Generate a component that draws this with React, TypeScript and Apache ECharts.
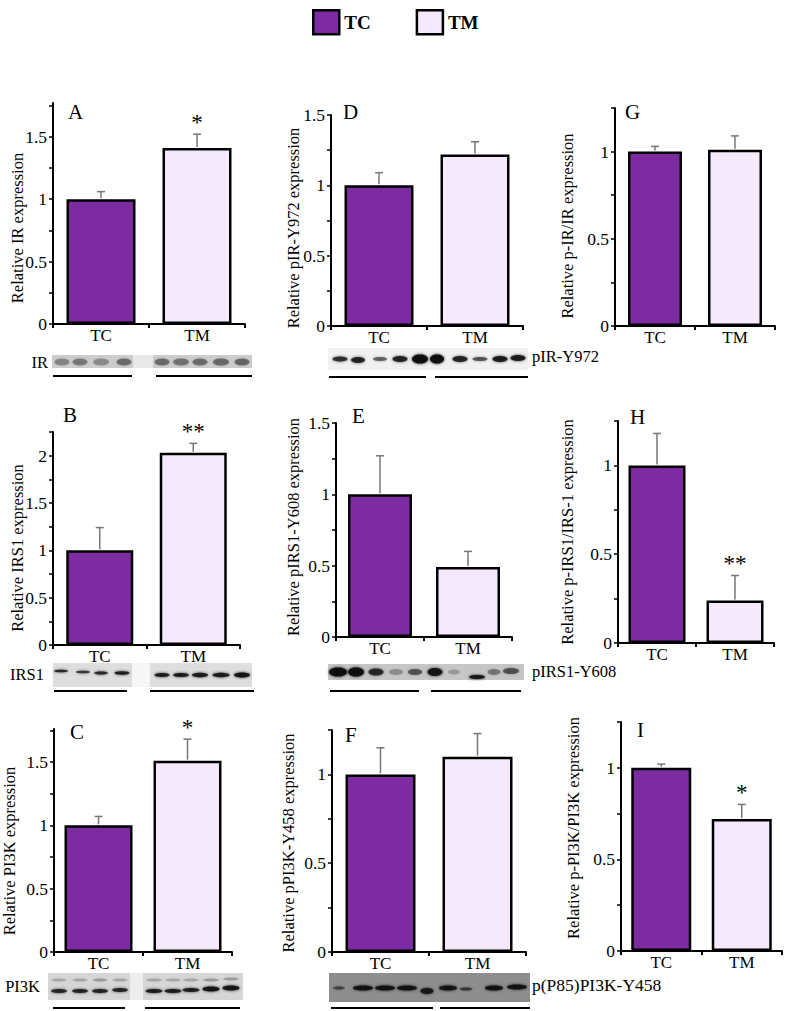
import React, { useEffect, useRef } from "react";
import * as echarts from "echarts";

// ---------------- data ----------------
const categories = ["TC", "TM"];
const panelLetters = ["A", "B", "C", "D", "E", "F", "G", "H", "I"];
const yAxisNames = [
  "Relative IR expression",
  "Relative IRS1 expression",
  "Relative PI3K expression",
  "Relative pIR-Y972 expression",
  "Relative pIRS1-Y608 expression",
  "Relative pPI3K-Y458 expression",
  "Relative p-IR/IR expression",
  "Relative p-IRS1/IRS-1 expression",
  "Relative p-PI3K/PI3K expression",
];
const tcMean = [1.0, 1.0, 1.0, 1.0, 1.0, 1.0, 1.0, 1.0, 1.0];
const tmMean = [1.41, 2.03, 1.51, 1.22, 0.49, 1.1, 1.01, 0.24, 0.72];
const tcErr = [0.06, 0.24, 0.07, 0.09, 0.27, 0.15, 0.03, 0.18, 0.02];
const tmErr = [0.11, 0.1, 0.17, 0.09, 0.11, 0.13, 0.08, 0.14, 0.08];
const tmSignificance = ["*", "**", "*", "", "", "", "", "**", "*"];
const yAxisMax = [1.77, 2.25, 1.76, 1.5, 1.5, 1.25, 1.25, 1.25, 1.25];
const yLabelValues = [
  [0, 0.5, 1, 1.5],
  [0, 0.5, 1, 1.5, 2],
  [0, 0.5, 1, 1.5],
  [0, 0.5, 1, 1.5],
  [0, 0.5, 1, 1.5],
  [0, 0.5, 1],
  [0, 0.5, 1],
  [0, 0.5, 1],
  [0, 0.5, 1],
];
const yTickValues = [
  [0, 0.25, 0.5, 0.75, 1, 1.25, 1.5, 1.75],
  [0, 0.25, 0.5, 0.75, 1, 1.25, 1.5, 1.75, 2, 2.25],
  [0, 0.25, 0.5, 0.75, 1, 1.25, 1.5, 1.75],
  [0, 0.25, 0.5, 0.75, 1, 1.25, 1.5],
  [0, 0.25, 0.5, 0.75, 1, 1.25, 1.5],
  [0, 0.25, 0.5, 0.75, 1, 1.25],
  [0, 0.25, 0.5, 0.75, 1, 1.25],
  [0, 0.25, 0.5, 0.75, 1, 1.25],
  [0, 0.25, 0.5, 0.75, 1, 1.25],
];
const blotLeftLabels = ["IR", "IRS1", "PI3K"];
const blotRightLabels = ["pIR-Y972", "pIRS1-Y608", "p(P85)PI3K-Y458"];

// ---------------- layout / style ----------------
const FONT = "'Liberation Serif', 'Times New Roman', serif";
const TC_COLOR = "#7d2ba0";
const TM_COLOR = "#f5eafc";
const ERR_COLOR = "#777777";
// grid boxes [left, top, right, bottom]
const gridBoxes = [
  [53, 103, 245, 324],
  [53, 432, 240, 645],
  [54, 729, 232, 952],
  [331, 115, 523, 326],
  [336, 423, 512, 637],
  [332, 730, 526, 952],
  [615, 108, 775, 326],
  [618, 421, 774, 643],
  [621, 722, 782, 951],
];
const barWidths = [69, 67, 68, 69, 64, 70, 54, 57, 60];
const letterPos = [
  [68, 112], [63, 415], [70, 732],
  [343, 112], [352, 416], [345, 735],
  [625, 112], [630, 417], [637, 730],
];
const namePos = [
  [17, 228], [17, 548], [9, 851],
  [293, 228], [293, 527], [288, 843],
  [567, 226], [567, 532], [573, 828],
];

type Band = [number, number, number, number, number]; // cx, cy, w, h, alpha

function blot(x0: number, y0: number, x1: number, y1: number, bg: string, gaps: any[], bands: Band[]) {
  const els: any[] = [
    { type: "rect", shape: { x: x0, y: y0, width: x1 - x0, height: y1 - y0 }, style: { fill: bg } },
  ];
  gaps.forEach(([gx0, gx1, col]: any) => {
    els.push({ type: "rect", shape: { x: gx0, y: y0, width: gx1 - gx0, height: y1 - y0 }, style: { fill: col } });
  });
  bands.forEach(([cx, cy, w, h, a]) => {
    els.push({
      type: "ellipse",
      shape: { cx, cy, rx: w / 2, ry: h / 2 },
      style: { fill: `rgba(15,15,15,${a})`, shadowBlur: 3, shadowColor: `rgba(15,15,15,${a})` },
    });
  });
  return els;
}

function underline(x0: number, x1: number, y: number) {
  return { type: "line", shape: { x1: x0, y1: y, x2: x1, y2: y }, style: { stroke: "#000", lineWidth: 2 } };
}

function label(text: string, x: number, y: number, size: number, align = "left", extra: any = {}) {
  return {
    type: "text",
    x,
    y,
    style: { text, fontFamily: FONT, fontSize: size, fill: "#000", align, verticalAlign: "middle", ...extra },
  };
}

export default function App() {
  const ref = useRef<HTMLDivElement>(null);

  useEffect(() => {
    if (!ref.current) return;
    const chart = echarts.init(ref.current, null, { renderer: "svg" });

    const grids: any[] = [];
    const xAxes: any[] = [];
    const yAxes: any[] = [];
    const series: any[] = [];

    for (let i = 0; i < 9; i++) {
      const [l, t, r, b] = gridBoxes[i];
      grids.push({ left: l, top: t, width: r - l, height: b - t, containLabel: false, outerBoundsMode: "none" });
      xAxes.push({
        type: "category",
        gridIndex: i,
        data: categories,
        axisLine: { show: true, lineStyle: { color: "#000", width: 2 } },
        axisTick: { show: true, length: 4, lineStyle: { color: "#000", width: 2 } },
        axisLabel: { color: "#000", fontFamily: FONT, fontSize: 17, margin: 3 },
        splitLine: { show: false },
      });
      yAxes.push({
        type: "value",
        gridIndex: i,
        min: 0,
        max: yAxisMax[i],
        axisLine: { show: true, lineStyle: { color: "#000", width: 2 } },
        axisTick: { show: true, length: 4, customValues: yTickValues[i], lineStyle: { color: "#000", width: 1.5 } },
        axisLabel: { customValues: yLabelValues[i], color: "#000", fontFamily: FONT, fontSize: 17.5, margin: 6 },
        splitLine: { show: false },
      });
      series.push({
        type: "bar",
        name: "TC",
        xAxisIndex: i,
        yAxisIndex: i,
        data: [tcMean[i], "-"],
        barWidth: barWidths[i],
        barGap: "-100%",
        itemStyle: { color: TC_COLOR, borderColor: "#000", borderWidth: 2.5 },
        z: 2,
      });
      series.push({
        type: "bar",
        name: "TM",
        xAxisIndex: i,
        yAxisIndex: i,
        data: ["-", tmMean[i]],
        barWidth: barWidths[i],
        barGap: "-100%",
        itemStyle: { color: TM_COLOR, borderColor: "#000", borderWidth: 2.5 },
        z: 2,
      });
      const panel = i;
      series.push({
        type: "custom",
        xAxisIndex: i,
        yAxisIndex: i,
        z: 5,
        encode: { x: 0, y: 1 },
        data: [
          [0, tcMean[i], tcErr[i]],
          [1, tmMean[i], tmErr[i]],
        ],
        renderItem: (params: any, api: any) => {
          const x = api.value(0);
          const m = api.value(1);
          const e = api.value(2);
          const base = api.coord([x, m]);
          const top = api.coord([x, m + e]);
          const children: any[] = [
            { type: "line", shape: { x1: base[0], y1: base[1] - 1, x2: top[0], y2: top[1] }, style: { stroke: ERR_COLOR, lineWidth: 1.5 } },
            { type: "line", shape: { x1: top[0] - 4, y1: top[1], x2: top[0] + 4, y2: top[1] }, style: { stroke: ERR_COLOR, lineWidth: 1.5 } },
          ];
          const sig = params.dataIndex === 1 ? tmSignificance[panel] : "";
          if (sig) {
            children.push({
              type: "text",
              x: top[0],
              y: top[1] - 12,
              style: { text: sig, fontFamily: FONT, fontSize: 23, fill: "#000", align: "center", verticalAlign: "middle" },
            });
          }
          return { type: "group", children };
        },
      });
    }

    const graphic: any[] = [];
    for (let i = 0; i < 9; i++) {
      graphic.push(label(panelLetters[i], letterPos[i][0], letterPos[i][1], 21, "left"));
      graphic.push({
        type: "text",
        x: namePos[i][0],
        y: namePos[i][1],
        rotation: Math.PI / 2,
        style: { text: yAxisNames[i], fontFamily: FONT, fontSize: 16.5, fill: "#000", align: "center", verticalAlign: "middle" },
      });
    }

    const blots: any[] = [
      ...blot(52, 355, 252, 368, "#cdcdcd", [[133, 153, "#e9e9e9"]], [
        [62, 362, 15, 7, 0.3], [80, 362, 15, 7, 0.35], [101, 362, 16, 7, 0.28], [124, 362, 15, 7, 0.4],
        [162, 362, 15, 7, 0.4], [181, 362, 16, 7, 0.38], [200, 362, 15, 7, 0.4], [221, 362, 16, 7, 0.45], [242, 362, 15, 7, 0.42],
      ]),
      ...blot(53, 663, 252, 687, "#dedede", [[132, 150, "#f6f6f6"]], [
        [61, 671, 14, 2.5, 0.8], [83, 672, 14, 2.5, 0.75], [101, 673, 14, 3, 0.8], [122, 673, 15, 3.5, 0.85],
        [162, 675, 15, 4, 0.85], [181, 675, 16, 4, 0.85], [200, 675, 16, 4.5, 0.85], [221, 675, 17, 4.5, 0.85], [242, 675, 16, 5, 0.9],
      ]),
      ...blot(48, 973, 243, 1000, "#d6d6d6", [[130, 143, "#eeeeee"]], [
        [59, 980, 15, 3, 0.2], [80, 980, 15, 3, 0.2], [100, 980, 15, 3, 0.25], [120, 980, 15, 3, 0.2],
        [59, 991, 16, 4, 0.8], [80, 991, 16, 4, 0.8], [100, 991, 16, 4, 0.8], [120, 990, 16, 4, 0.8],
        [154, 980, 16, 3, 0.2], [173, 980, 16, 3, 0.2], [191, 980, 16, 3, 0.2], [211, 980, 16, 3, 0.25], [231, 979, 16, 3, 0.25],
        [154, 991, 17, 4, 0.85], [173, 991, 17, 4, 0.85], [191, 990, 17, 4, 0.85], [211, 989, 17, 5, 0.9], [231, 988, 17, 5, 0.9],
      ]),
      ...blot(328, 348, 528, 370, "#f1f1f1", [], [
        [340, 359, 15, 5, 0.75], [358, 360, 14, 6, 0.8], [380, 359, 14, 4, 0.55], [400, 359, 15, 6, 0.8],
        [420, 359, 16, 9, 0.95], [437, 359, 14, 9, 0.95], [460, 359, 15, 6, 0.8], [480, 359, 15, 4, 0.6],
        [500, 359, 15, 6, 0.85], [518, 358, 15, 6, 0.85],
      ]),
      ...blot(328, 664, 524, 680, "#c6c6c6", [], [
        [338, 672, 18, 9, 0.95], [356, 672, 16, 9, 0.95], [376, 672, 15, 7, 0.75], [396, 672, 14, 6, 0.25],
        [415, 672, 14, 6, 0.55], [435, 672, 15, 8, 0.88], [454, 672, 12, 5, 0.2], [477, 677, 16, 4, 0.9],
        [494, 672, 13, 6, 0.35], [511, 671, 16, 6, 0.55],
      ]),
      ...blot(329, 973, 530, 1002, "#8e8e8e", [], [
        [339, 988, 12, 3, 0.55], [363, 988, 20, 5, 0.9], [385, 988, 20, 5, 0.9], [407, 988, 20, 5, 0.9],
        [427, 991, 13, 6, 0.85], [448, 988, 18, 5, 0.9], [466, 989, 13, 3, 0.6], [494, 988, 18, 5, 0.9],
        [517, 987, 20, 5, 0.9],
      ]),
    ];
    graphic.push(...blots);

    graphic.push(
      underline(53, 132, 376), underline(156, 252, 376),
      underline(54, 127, 691), underline(150, 254, 691),
      underline(53, 125, 1008), underline(145, 240, 1008),
      underline(329, 426, 377), underline(435, 528, 377),
      underline(330, 419, 691), underline(431, 521, 691),
      underline(331, 433, 1008), underline(440, 530, 1008)
    );

    graphic.push(
      label(blotLeftLabels[0], 48, 362, 16.5, "right"),
      label(blotLeftLabels[1], 44, 674, 16.5, "right"),
      label(blotLeftLabels[2], 40, 986, 16.5, "right"),
      label(blotRightLabels[0], 532, 356, 16.5, "left"),
      label(blotRightLabels[1], 532, 671, 16.5, "left"),
      label(blotRightLabels[2], 532, 985, 17.5, "left")
    );

    chart.setOption({
      animation: false,
      backgroundColor: "#ffffff",
      legend: {
        data: ["TC", "TM"],
        left: 307,
        top: 4,
        icon: "rect",
        itemWidth: 26,
        itemHeight: 24,
        itemGap: 45,
        selectedMode: false,
        itemStyle: { borderColor: "#000", borderWidth: 2.5 },
        textStyle: { fontFamily: FONT, fontWeight: "bold", fontSize: 19, color: "#000" },
      },
      grid: grids,
      xAxis: xAxes,
      yAxis: yAxes,
      series,
      graphic: { elements: graphic },
    });

    return () => chart.dispose();
  }, []);

  return <div ref={ref} style={{ position: "absolute", left: 0, top: 0, width: 789, height: 1011 }} />;
}
